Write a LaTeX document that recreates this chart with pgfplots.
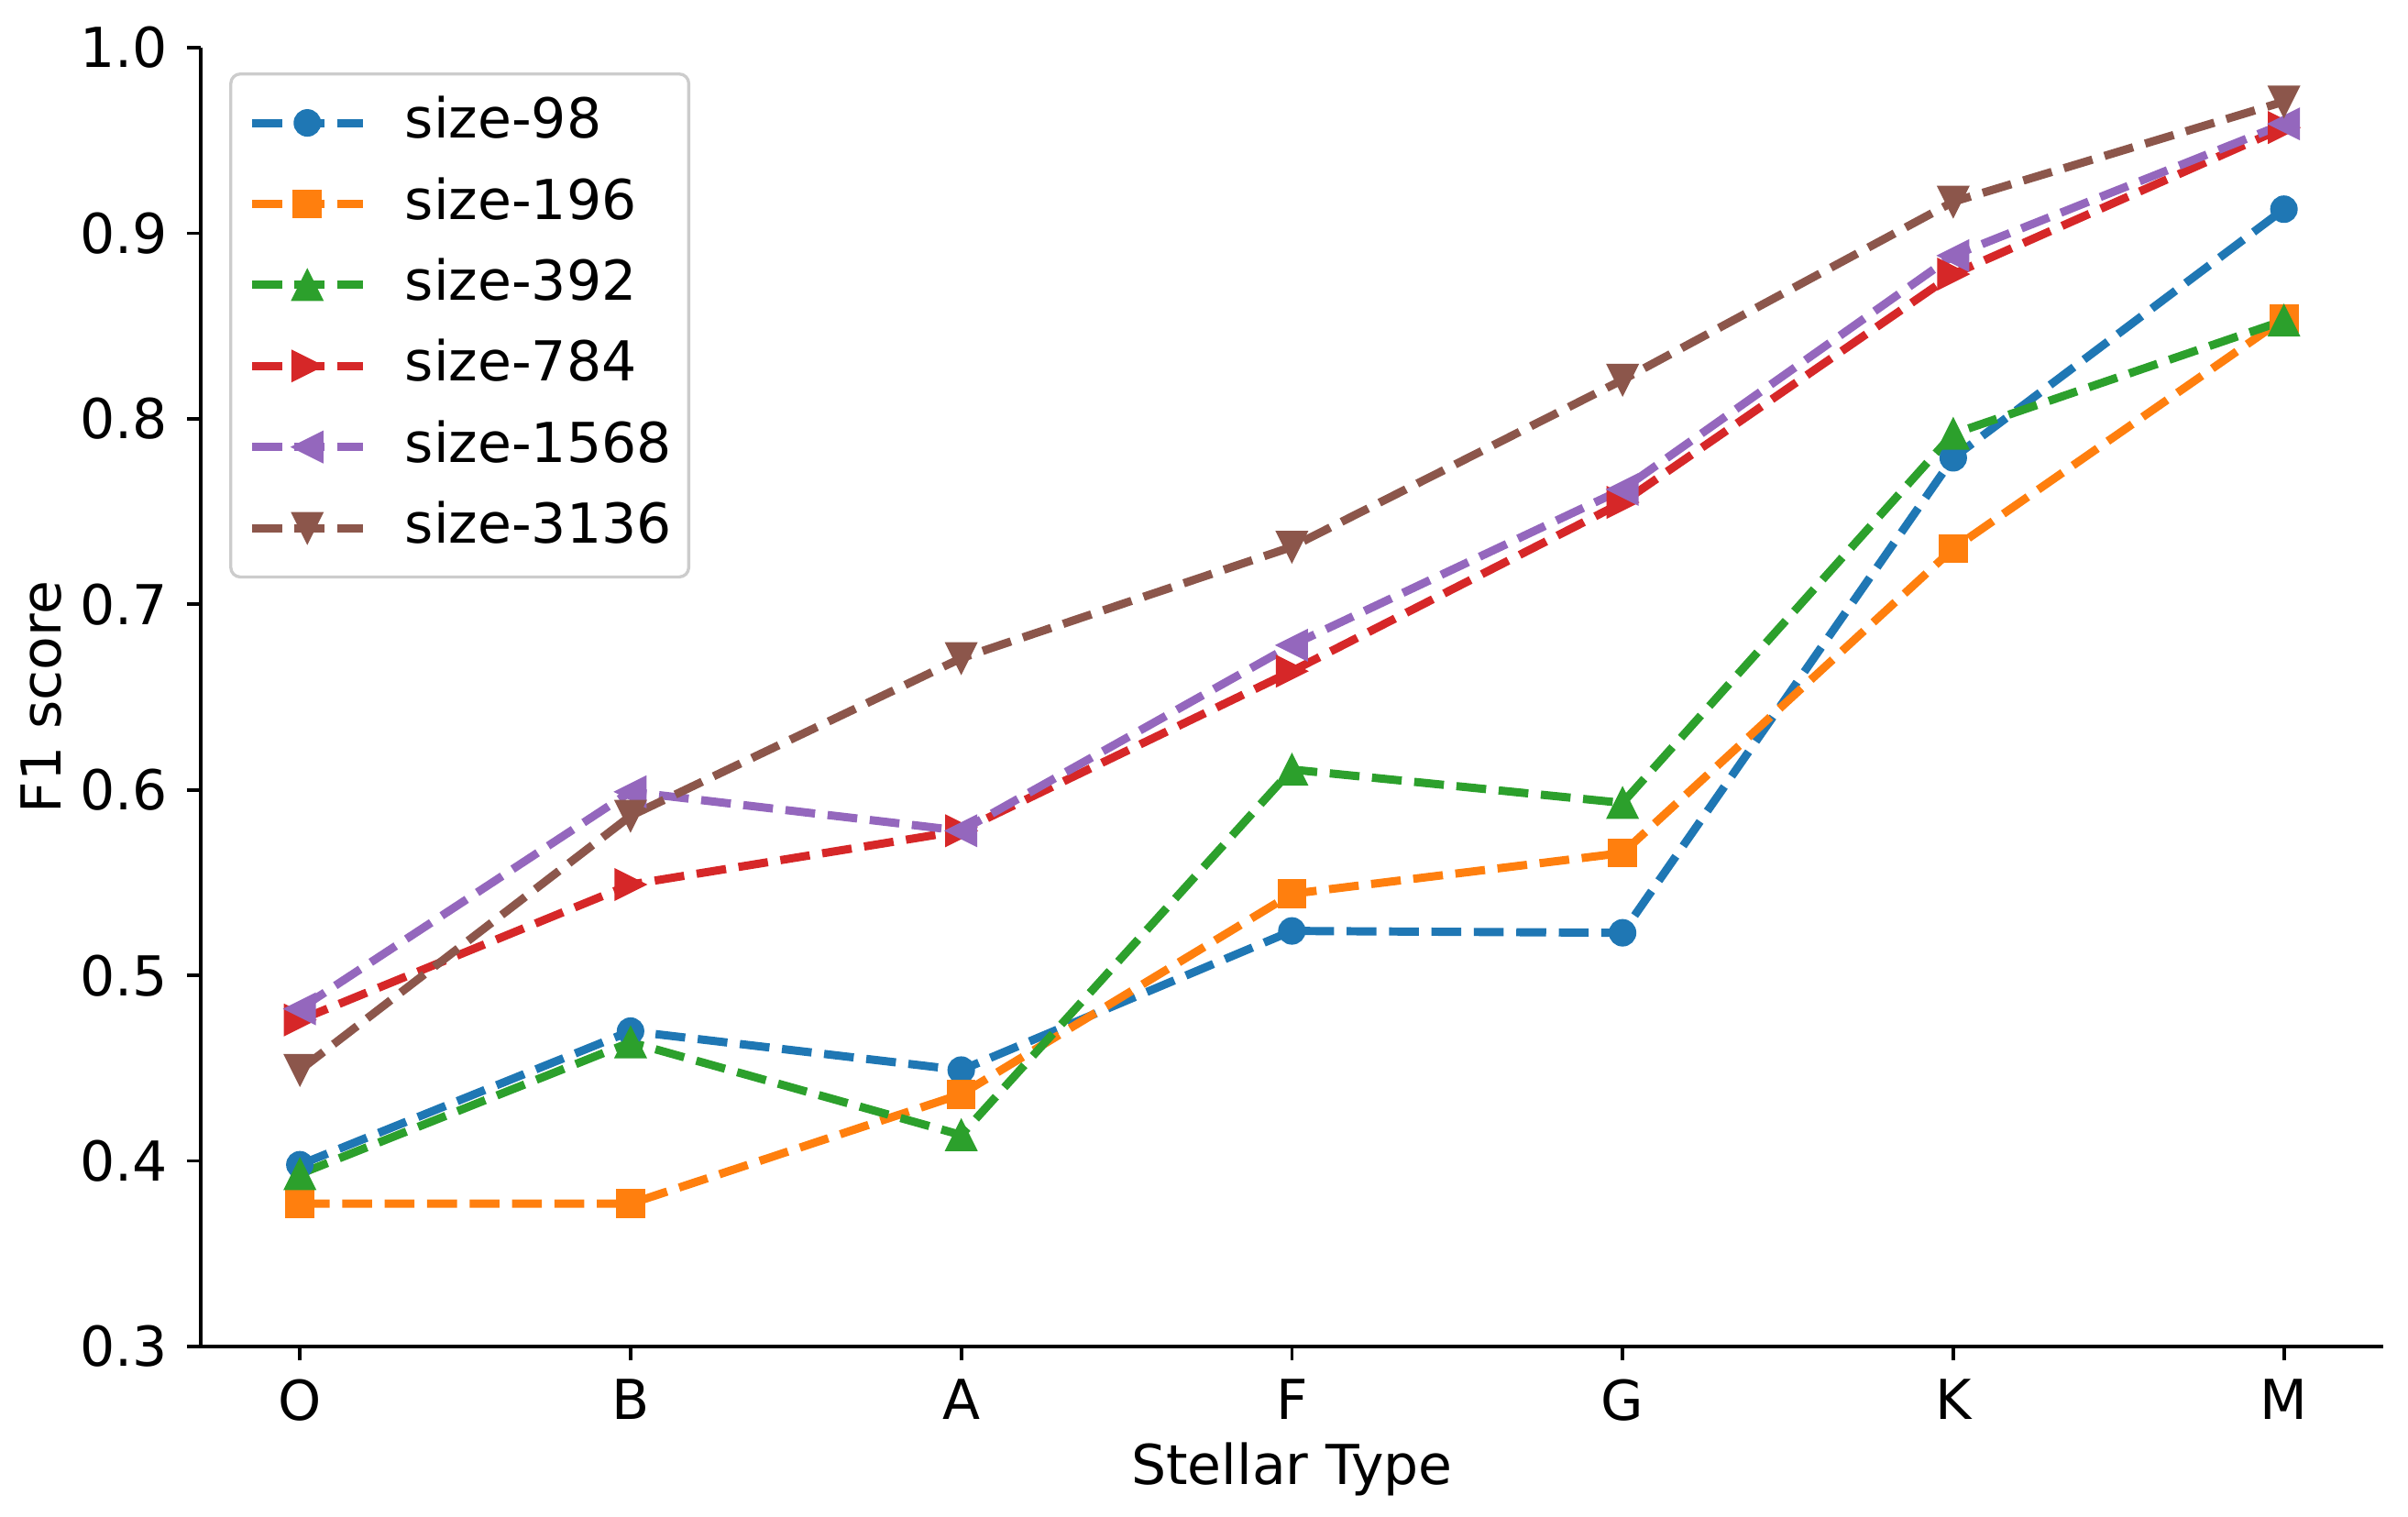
\documentclass[border=0pt]{standalone}
\usepackage{fontspec}
\setmainfont{DejaVu Sans}
\usepackage{pgfplots}
\pgfplotsset{compat=1.18}
\definecolor{c0}{HTML}{1F77B4}
\definecolor{c1}{HTML}{FF7F0E}
\definecolor{c2}{HTML}{2CA02C}
\definecolor{c3}{HTML}{D62728}
\definecolor{c4}{HTML}{9467BD}
\definecolor{c5}{HTML}{8C564B}
\pgfdeclareplotmark{tu}{\pgfpathmoveto{\pgfqpoint{0pt}{\pgfplotmarksize}}\pgfpathlineto{\pgfqpoint{-\pgfplotmarksize}{-\pgfplotmarksize}}\pgfpathlineto{\pgfqpoint{\pgfplotmarksize}{-\pgfplotmarksize}}\pgfpathclose\pgfusepathqfillstroke}
\pgfdeclareplotmark{td}{\pgfpathmoveto{\pgfqpoint{0pt}{-\pgfplotmarksize}}\pgfpathlineto{\pgfqpoint{-\pgfplotmarksize}{\pgfplotmarksize}}\pgfpathlineto{\pgfqpoint{\pgfplotmarksize}{\pgfplotmarksize}}\pgfpathclose\pgfusepathqfillstroke}
\pgfdeclareplotmark{tr}{\pgfpathmoveto{\pgfqpoint{\pgfplotmarksize}{0pt}}\pgfpathlineto{\pgfqpoint{-\pgfplotmarksize}{\pgfplotmarksize}}\pgfpathlineto{\pgfqpoint{-\pgfplotmarksize}{-\pgfplotmarksize}}\pgfpathclose\pgfusepathqfillstroke}
\pgfdeclareplotmark{tl}{\pgfpathmoveto{\pgfqpoint{-\pgfplotmarksize}{0pt}}\pgfpathlineto{\pgfqpoint{\pgfplotmarksize}{\pgfplotmarksize}}\pgfpathlineto{\pgfqpoint{\pgfplotmarksize}{-\pgfplotmarksize}}\pgfpathclose\pgfusepathqfillstroke}
\pgfplotstableread{
x s98 s196 s392 s784 s1568 s3136
0 0.398 0.377 0.393 0.476 0.482 0.449
1 0.470 0.377 0.464 0.549 0.599 0.586
2 0.449 0.436 0.414 0.578 0.578 0.671
3 0.524 0.544 0.611 0.664 0.678 0.731
4 0.523 0.566 0.593 0.755 0.762 0.821
5 0.779 0.730 0.792 0.878 0.888 0.917
6 0.913 0.854 0.853 0.957 0.959 0.971
}\data
\begin{document}
\fontsize{14.4}{17}\selectfont
\begin{tikzpicture}
\useasboundingbox (-52.5pt,-44.4pt) rectangle (577.5pt,352.3pt);
\begin{axis}[
  at={(0,0)}, anchor=south west,
  scale only axis, width=571pt, height=339.8pt,
  xmin=-0.3, xmax=6.3, ymin=0.3, ymax=1.0,
  axis x line*=bottom, axis y line*=left,
  axis line style={line width=0.9pt},
  tick align=outside, major tick length=3.6pt,
  tick style={line width=0.9pt, black},
  xtick={0,...,6}, xticklabels={O,B,A,F,G,K,M},
  ytick={0.3,0.4,...,1.0},
  yticklabel style={/pgf/number format/fixed, /pgf/number format/fixed zerofill, /pgf/number format/precision=1},
  /pgf/number format/assume math mode=true,
  ticklabel style={font=\fontsize{14.4}{17}\selectfont},
  xlabel={Stellar Type}, ylabel={F1 score},
  label style={font=\fontsize{14.4}{17}\selectfont},
  xlabel style={at={(axis description cs:0.5,-0.0945)}, anchor=center},
  ylabel style={at={(axis description cs:-0.073,0.5)}, anchor=center},
  every axis plot/.append style={line width=2.15pt, dash pattern=on 7.8pt off 3.3pt},
  legend style={at={(axis description cs:0.0131,0.981)}, anchor=north west,
    draw=black!20, line width=0.8pt, rounded corners=2.5pt, fill=white,
    inner xsep=4.5pt, inner ysep=2.2pt, row sep=0pt,
    font=\fontsize{14.4}{17}\selectfont,
    nodes={inner sep=0pt, text height=14.6pt, text depth=6.6pt}},
  legend cell align=left,
  legend image code/.code={\draw[mark repeat=2, mark phase=2] plot coordinates {(0pt,0pt) (14.45pt,0pt) (28.9pt,0pt)};\path (28.9pt+10pt,0pt);},
]
\addplot[c0, mark=*, mark size=3.4pt, mark options={solid, fill=c0, draw=c0, line width=0.4pt}] table[x=x, y=s98] {\data};
\addlegendentry{size-98}
\addplot[c1, mark=square*, mark size=3.6pt, mark options={solid, fill=c1, draw=c1, line width=0.4pt}] table[x=x, y=s196] {\data};
\addlegendentry{size-196}
\addplot[c2, mark=tu, mark size=4pt, mark options={solid, fill=c2, draw=c2, line width=0.4pt}] table[x=x, y=s392] {\data};
\addlegendentry{size-392}
\addplot[c3, mark=tr, mark size=4pt, mark options={solid, fill=c3, draw=c3, line width=0.4pt}] table[x=x, y=s784] {\data};
\addlegendentry{size-784}
\addplot[c4, mark=tl, mark size=4pt, mark options={solid, fill=c4, draw=c4, line width=0.4pt}] table[x=x, y=s1568] {\data};
\addlegendentry{size-1568}
\addplot[c5, mark=td, mark size=4pt, mark options={solid, fill=c5, draw=c5, line width=0.4pt}] table[x=x, y=s3136] {\data};
\addlegendentry{size-3136}
\end{axis}
\end{tikzpicture}
\end{document}
